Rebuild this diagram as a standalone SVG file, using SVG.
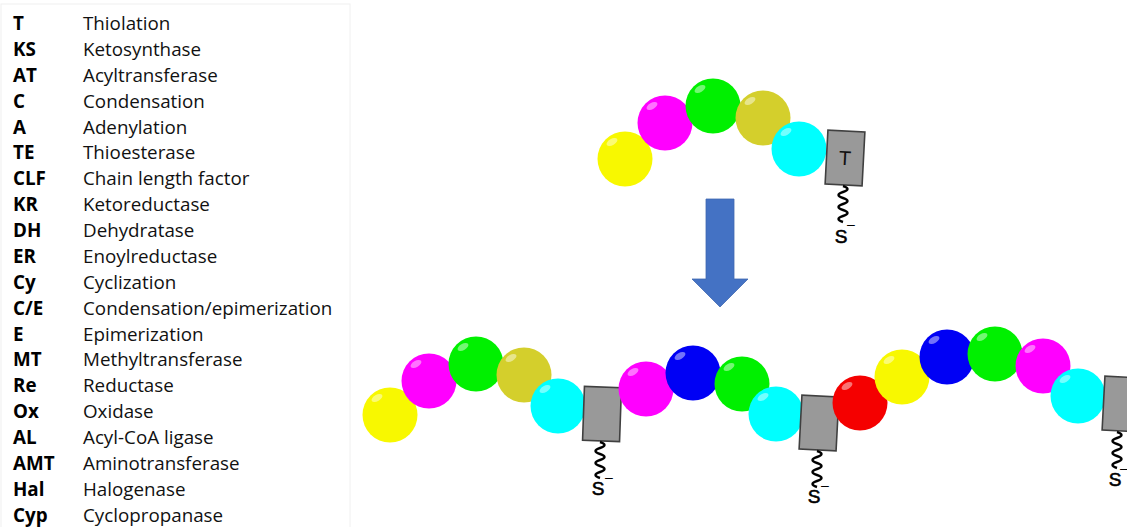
<svg xmlns="http://www.w3.org/2000/svg" width="1127" height="527" viewBox="0 0 1127 527">
  <style>
    .ab { font-family: "Open Sans", "Liberation Sans", sans-serif; font-size: 18.8px; font-weight: bold; fill: #000; }
    .ds { font-family: "Open Sans", "Liberation Sans", sans-serif; font-size: 18.8px; fill: #111; }
    .hl { fill: #ffffff; opacity: 0.45; }
    .tbox { fill: #999999; stroke: #404040; stroke-width: 1.6; }
    .tlab { font-family: "Liberation Sans", Arial, sans-serif; font-size: 20px; fill: #111; text-anchor: middle; }
    .wave { fill: none; stroke: #000; stroke-width: 2.4; }
    .s { font-family: "Liberation Sans", Arial, sans-serif; font-size: 19px; fill: #000; stroke: #000; stroke-width: 0.6; text-anchor: middle; }
    .neg { font-family: "Liberation Sans", Arial, sans-serif; font-size: 14px; fill: #000; }
    .y { fill: #f8f800; } .m { fill: #ff00ff; } .g { fill: #00f000; } .o { fill: #d4cf2c; }
    .c { fill: #00ffff; } .b { fill: #0000f5; } .r { fill: #f50000; }
  </style>
  <defs>
    <!-- glossy bead: base colour comes from the <use> fill class -->
    <g id="bead">
      <circle r="27.5"/>
      <ellipse class="hl" cx="-13" cy="-17" rx="6" ry="3.2" transform="rotate(-30 -13 -17)"/>
    </g>
    <!-- phosphopantetheine arm hanging from a carrier domain -->
    <path id="arm" class="wave" d="M0,0 q9,3 0,6 q-9,3 0,6 q9,3 0,6 q-9,3 0,6 q9,3 0,6 q-9,3 0,6"/>
  </defs>

  <rect x="1" y="4" width="349" height="540" fill="none" stroke="#f0f0f0" stroke-width="1"/>

  <g id="legend">
    <text class="ab" x="13" y="30">T</text><text class="ds" x="83" y="30">Thiolation</text>
    <text class="ab" x="13" y="55.9">KS</text><text class="ds" x="83" y="55.9">Ketosynthase</text>
    <text class="ab" x="13" y="81.8">AT</text><text class="ds" x="83" y="81.8">Acyltransferase</text>
    <text class="ab" x="13" y="107.6">C</text><text class="ds" x="83" y="107.6">Condensation</text>
    <text class="ab" x="13" y="133.5">A</text><text class="ds" x="83" y="133.5">Adenylation</text>
    <text class="ab" x="13" y="159.4">TE</text><text class="ds" x="83" y="159.4">Thioesterase</text>
    <text class="ab" x="13" y="185.3">CLF</text><text class="ds" x="83" y="185.3">Chain length factor</text>
    <text class="ab" x="13" y="211.2">KR</text><text class="ds" x="83" y="211.2">Ketoreductase</text>
    <text class="ab" x="13" y="237">DH</text><text class="ds" x="83" y="237">Dehydratase</text>
    <text class="ab" x="13" y="262.9">ER</text><text class="ds" x="83" y="262.9">Enoylreductase</text>
    <text class="ab" x="13" y="288.8">Cy</text><text class="ds" x="83" y="288.8">Cyclization</text>
    <text class="ab" x="13" y="314.7">C/E</text><text class="ds" x="83" y="314.7">Condensation/epimerization</text>
    <text class="ab" x="13" y="340.6">E</text><text class="ds" x="83" y="340.6">Epimerization</text>
    <text class="ab" x="13" y="366.4">MT</text><text class="ds" x="83" y="366.4">Methyltransferase</text>
    <text class="ab" x="13" y="392.3">Re</text><text class="ds" x="83" y="392.3">Reductase</text>
    <text class="ab" x="13" y="418.2">Ox</text><text class="ds" x="83" y="418.2">Oxidase</text>
    <text class="ab" x="13" y="444.1">AL</text><text class="ds" x="83" y="444.1">Acyl-CoA ligase</text>
    <text class="ab" x="13" y="470">AMT</text><text class="ds" x="83" y="470">Aminotransferase</text>
    <text class="ab" x="13" y="495.8">Hal</text><text class="ds" x="83" y="495.8">Halogenase</text>
    <text class="ab" x="13" y="521.7">Cyp</text><text class="ds" x="83" y="521.7">Cyclopropanase</text>
  </g>

  <!-- single module: five extender units on one T domain -->
  <g id="module-top">
    <use href="#bead" class="y" x="625" y="159"/>
    <use href="#bead" class="m" x="665" y="123"/>
    <use href="#bead" class="g" x="713" y="106"/>
    <use href="#bead" class="o" x="763" y="118"/>
    <use href="#bead" class="c" x="799" y="149"/>
    <g transform="translate(845 158) rotate(3)">
      <rect class="tbox" x="-18.5" y="-27" width="37" height="54"/>
      <text class="tlab" x="0" y="7">T</text>
    </g>
    <use href="#arm" x="843" y="186"/>
    <text class="s" x="841" y="243">S</text>
    <text class="neg" x="847" y="229">–</text>
  </g>

  <g id="connectors">
    <path id="arrow" d="M706,199 H734 V279 H748 L720,307 L692,279 H706 Z" fill="#4472c4" stroke="#3f67b0" stroke-width="0.8"/>
  </g>

  <!-- assembly line: three modules chained together -->
  <g id="module-1">
    <use href="#bead" class="y" x="390" y="415"/>
    <use href="#bead" class="m" x="429" y="381"/>
    <use href="#bead" class="g" x="476" y="364"/>
    <use href="#bead" class="o" x="524" y="375"/>
    <use href="#bead" class="c" x="558" y="406"/>
    <g transform="translate(602 414) rotate(2)">
      <rect class="tbox" x="-18.5" y="-27" width="37" height="54"/>
    </g>
    <use href="#arm" x="600" y="442"/>
    <text class="s" x="598" y="495">S</text>
    <text class="neg" x="605" y="482">–</text>
  </g>

  <g id="module-2">
    <use href="#bead" class="m" x="646" y="389"/>
    <use href="#bead" class="b" x="693" y="373"/>
    <use href="#bead" class="g" x="742" y="384"/>
    <use href="#bead" class="c" x="776" y="414"/>
    <g transform="translate(819 423) rotate(3)">
      <rect class="tbox" x="-18.5" y="-27" width="37" height="54"/>
    </g>
    <use href="#arm" x="817" y="451"/>
    <text class="s" x="814" y="503">S</text>
    <text class="neg" x="821" y="490">–</text>
  </g>

  <g id="module-3">
    <use href="#bead" class="r" x="860" y="403"/>
    <use href="#bead" class="y" x="902" y="377"/>
    <use href="#bead" class="b" x="947" y="357"/>
    <use href="#bead" class="g" x="995" y="354"/>
    <use href="#bead" class="m" x="1043" y="366"/>
    <use href="#bead" class="c" x="1078" y="396"/>
    <g transform="translate(1122 404) rotate(3)">
      <rect class="tbox" x="-18.5" y="-27" width="37" height="54"/>
    </g>
    <use href="#arm" x="1117" y="432"/>
    <text class="s" x="1115" y="486">S</text>
    <text class="neg" x="1120" y="473">–</text>
  </g>
</svg>
